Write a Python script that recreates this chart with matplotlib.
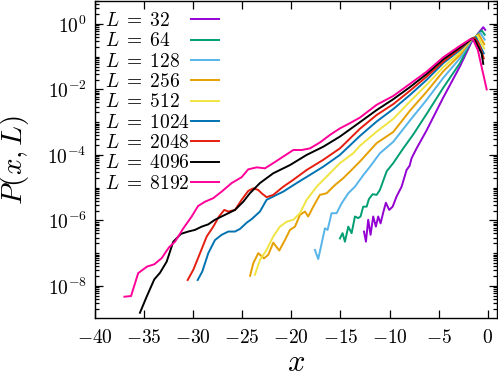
import numpy as np
import matplotlib
matplotlib.use("Agg")
import matplotlib.pyplot as plt
from matplotlib.ticker import FixedLocator, FixedFormatter, NullLocator

plt.rcParams['mathtext.fontset'] = 'cm'
plt.rcParams['font.family'] = ['DejaVu Serif']

# ---- data (x, log10 P) ----
x_32 = [-12.6, -12.4, -12.17, -11.93, -11.66, -11.39, -11.15, -10.91, -10.64, -10.37, -10.03, -9.68, -9.28,
        -8.77, -8.26, -7.95, -7.75, -7.24, -6.22, -4.53, -2.83, -1.64, -1.0, -0.45, -0.25]
lp_32 = [-6.34, -6.65, -5.98, -6.44, -5.88, -6.19, -5.88, -6.09, -5.76, -5.46, -5.68, -5.58, -5.27,
         -4.97, -4.46, -4.33, -4.1, -3.8, -3.25, -2.25, -1.3, -0.55, -0.3, -0.1, -0.18]

x_64 = [-15.05, -14.78, -14.54, -14.2, -13.86, -13.52, -13.19, -12.95, -12.68, -12.33, -12.1, -11.72, -11.31,
        -10.98, -10.29, -9.62, -8.6, -7.59, -6.22, -4.53, -2.83, -1.64, -0.6, -0.3]
lp_64 = [-6.55, -6.39, -6.65, -6.19, -6.39, -5.88, -5.93, -5.88, -5.58, -5.58, -5.35, -5.2, -5.22,
         -5.07, -4.5, -4.25, -3.8, -3.38, -2.75, -1.95, -1.2, -0.5, -0.2, -0.33]

x_128 = [-17.6, -17.26, -16.91, -16.58, -16.31, -15.9, -15.39, -14.88, -14.2, -13.52, -12.68, -11.99, -10.98,
         -9.62, -7.92, -6.22, -4.53, -2.83, -1.64, -0.75, -0.3]
lp_128 = [-6.9, -7.18, -6.7, -6.24, -6.29, -5.78, -5.78, -5.48, -5.17, -4.97, -4.62, -4.36, -3.95,
          -3.6, -2.95, -2.32, -1.65, -1.05, -0.5, -0.27, -0.48]

x_256 = [-24.2, -23.88, -23.37, -22.79, -22.35, -21.84, -21.23, -20.65, -20.14, -19.63, -19.12, -18.61, -18.28,
         -17.77, -17.09, -16.4, -15.56, -14.71, -13.7, -13.01, -11.31, -9.62, -7.92, -6.22, -4.53, -2.83,
         -1.64, -0.9, -0.35]
lp_256 = [-7.69, -7.31, -7.0, -7.16, -7.05, -6.68, -6.92, -6.6, -6.29, -6.19, -5.83, -5.73, -5.88,
          -5.58, -5.22, -5.17, -4.92, -4.71, -4.41, -4.2, -3.64, -3.3, -2.65, -2.07, -1.45, -0.95,
          -0.47, -0.32, -0.62]

x_512 = [-23.71, -23.2, -22.52, -21.84, -21.16, -20.48, -19.8, -19.12, -18.44, -17.42, -16.4, -15.05, -13.7,
         -13.01, -11.31, -9.62, -7.92, -6.22, -4.53, -2.83, -1.64, -1.05, -0.35]
lp_512 = [-7.66, -7.21, -6.9, -6.49, -6.19, -6.04, -5.98, -5.78, -5.37, -4.97, -4.66, -4.25, -3.95,
          -3.72, -3.29, -2.9, -2.37, -1.86, -1.32, -0.88, -0.46, -0.36, -0.75]

x_1024 = [-29.54, -29.07, -28.46, -27.78, -27.1, -26.42, -25.74, -25.23, -24.55, -24.04, -23.2, -22.52, -21.84,
          -20.82, -19.46, -18.1, -16.75, -15.05, -13.01, -11.31, -9.62, -7.92, -6.22, -4.53, -2.83, -1.64,
          -1.2, -0.4]
lp_1024 = [-7.82, -7.56, -7.0, -6.6, -6.44, -6.34, -6.34, -6.26, -6.07, -5.96, -5.73, -5.37, -5.27,
           -5.12, -4.86, -4.61, -4.36, -4.0, -3.42, -2.98, -2.6, -2.17, -1.71, -1.2, -0.8, -0.45,
           -0.4, -0.9]

x_2048 = [-30.56, -29.99, -29.3, -28.62, -27.95, -27.37, -26.83, -26.42, -25.74, -25.06, -24.39, -23.88, -23.37,
          -23.03, -22.52, -21.84, -20.82, -19.8, -18.44, -16.75, -15.05, -13.01, -11.31, -9.62, -7.92, -6.22,
          -4.53, -2.83, -1.64, -1.35, -0.9, -0.4]
lp_2048 = [-7.82, -7.51, -7.0, -6.49, -6.19, -5.88, -5.68, -5.73, -5.68, -5.37, -5.1, -5.02, -5.07,
           -5.17, -5.29, -5.22, -4.97, -4.76, -4.46, -4.15, -3.8, -3.2, -2.78, -2.45, -2.04, -1.61,
           -1.15, -0.76, -0.45, -0.43, -0.6, -1.05]

x_4096 = [-35.42, -34.74, -33.96, -33.38, -32.7, -32.03, -31.24, -30.5, -29.82, -29.13, -28.46, -27.78, -26.76,
          -25.74, -24.9, -24.22, -23.2, -21.84, -20.14, -18.44, -16.75, -15.05, -13.01, -11.31, -9.62, -7.92,
          -6.22, -4.53, -2.83, -1.64, -1.3, -0.97, -0.62, -0.45]
lp_4096 = [-8.82, -8.33, -7.8, -7.6, -7.26, -6.65, -6.41, -6.34, -6.29, -6.19, -6.12, -5.98, -5.83,
           -5.68, -5.43, -5.17, -4.86, -4.56, -4.31, -4.0, -3.75, -3.44, -3.0, -2.63, -2.3, -1.93,
           -1.53, -1.08, -0.72, -0.46, -0.49, -0.69, -0.9, -1.22]

x_8192 = [-37.0, -36.33, -35.6, -34.7, -33.96, -33.2, -32.46, -31.85, -31.0, -30.15, -29.5, -28.8, -27.95,
          -27.1, -26.08, -25.06, -24.39, -23.53, -22.69, -21.84, -20.82, -19.8, -18.95, -18.1, -17.09, -16.07,
          -15.05, -14.03, -13.01, -11.31, -9.62, -7.92, -6.22, -4.53, -2.83, -1.8, -1.5, -1.0, -0.1]
lp_8192 = [-8.33, -8.31, -7.61, -7.41, -7.34, -7.15, -6.82, -6.65, -6.24, -5.88, -5.56, -5.43, -5.32,
           -5.12, -4.86, -4.68, -4.44, -4.38, -4.41, -4.25, -4.05, -3.85, -3.85, -3.8, -3.62, -3.39,
           -3.19, -3.03, -2.86, -2.47, -2.2, -1.83, -1.46, -1.02, -0.67, -0.47, -0.47, -0.8, -2.0]

sizes = [32, 64, 128, 256, 512, 1024, 2048, 4096, 8192]
xs = [x_32, x_64, x_128, x_256, x_512, x_1024, x_2048, x_4096, x_8192]
lps = [lp_32, lp_64, lp_128, lp_256, lp_512, lp_1024, lp_2048, lp_4096, lp_8192]
colors = ['#9400d3', '#009e73', '#56b4e9', '#e69f00', '#f0e442', '#0072b2', '#e51e10', '#000000', '#ff0099']

xticks = [-40, -35, -30, -25, -20, -15, -10, -5, 0]
yticks_exp = [0, -2, -4, -6, -8]

fig = plt.figure(figsize=(4.98, 3.75), dpi=100)
ax = fig.add_axes([95/498, 57/375, 402/498, 317/375])

for L, x, lp, c in zip(sizes, xs, lps, colors):
    ax.plot(x, 10.0**np.array(lp), color=c, lw=1.4, label=r'$L\;=\;%d$' % L)

ax.set_yscale('log')
ax.set_xlim(-40, 0.95)
ax.set_ylim(10**-8.98, 10**0.7)

ax.xaxis.set_major_locator(FixedLocator(xticks))
ax.xaxis.set_major_formatter(FixedFormatter([r'$%d$' % t for t in xticks]))
ax.xaxis.set_minor_locator(NullLocator())
ax.yaxis.set_major_locator(FixedLocator([10.0**e for e in yticks_exp]))
ax.yaxis.set_major_formatter(FixedFormatter([r'$10^{%d}$' % e for e in yticks_exp]))
minors = [k * 10.0**d for d in range(-10, 1) for k in range(1, 10)]
ax.yaxis.set_minor_locator(FixedLocator(minors))
ax.yaxis.set_minor_formatter(FixedFormatter([''] * len(minors)))

ax.tick_params(which='both', direction='in', top=True, right=True, labelsize=14, width=0.9)
ax.tick_params(axis='x', pad=8)
ax.tick_params(axis='y', pad=6)
ax.tick_params(which='major', length=5.5)
ax.tick_params(which='minor', length=3)
for s in ax.spines.values():
    s.set_linewidth(1.0)

ax.set_xlabel(r'$x$', fontsize=22)
ax.xaxis.set_label_coords(0.5, -0.09)
ax.set_ylabel(r'$P(x,L)$', fontsize=21)
ax.yaxis.set_label_coords(-0.158, 0.5)

leg = ax.legend(loc='upper left', bbox_to_anchor=(105/498, 1 - 12/375), bbox_transform=fig.transFigure,
                frameon=False, markerfirst=False, fontsize=14, handlelength=1.45, handletextpad=0.3,
                labelspacing=0.12, borderpad=0, borderaxespad=0)
try:
    for col in leg._legend_handle_box.get_children():
        for row in col.get_children():
            row.mode = 'expand'
            row.width = 114
except Exception:
    pass

fig.savefig('out.png', dpi=100)
